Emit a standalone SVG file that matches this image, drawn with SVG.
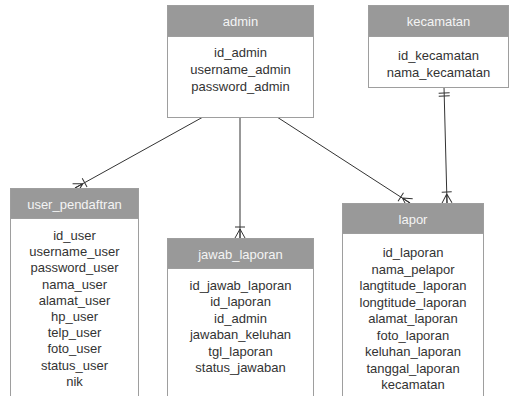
<svg xmlns="http://www.w3.org/2000/svg" width="510" height="396" viewBox="0 0 510 396">
  <style>
    .body { fill: #ffffff; stroke: #9e9e9e; stroke-width: 1; }
    .head { fill: #999999; stroke: #9e9e9e; stroke-width: 1; }
    .title { font-family: "Liberation Sans", Arial, sans-serif; font-size: 13px; fill: #f4f4f4; text-anchor: middle; }
    .field { font-family: "Liberation Sans", Arial, sans-serif; font-size: 13px; fill: #333333; text-anchor: middle; }
    .rel { fill: none; stroke: #333333; stroke-width: 1; }
    .mk { fill: none; stroke: #333333; stroke-width: 1; }
  </style>
  <defs>
    <!-- one-or-many (crow's foot with bar) at the entity end -->
    <marker id="many" markerUnits="userSpaceOnUse" viewBox="-14 -7 16 14" refX="0" refY="0" markerWidth="16" markerHeight="14" orient="auto" overflow="visible">
      <path class="mk" d="M-9,0 L0,-5 M-9,0 L0,0 M-9,0 L0,5 M-11,-5 L-11,5"/>
    </marker>
    <!-- one-and-only-one (double bar) at the start -->
    <marker id="one" markerUnits="userSpaceOnUse" viewBox="-14 -7 16 14" refX="0" refY="0" markerWidth="16" markerHeight="14" orient="auto-start-reverse" overflow="visible">
      <path class="mk" d="M-6,-5.5 L-6,5.5 M-9,-5.5 L-9,5.5"/>
    </marker>
  </defs>

  <g id="connectors">
    <path class="rel" d="M203,117 L75,188" marker-end="url(#many)"/>
    <path class="rel" d="M240,117 L240,238" marker-end="url(#many)"/>
    <path class="rel" d="M277,117 L410,203" marker-end="url(#many)"/>
    <path class="rel" d="M444,87 L447,203" marker-start="url(#one)" marker-end="url(#many)"/>
  </g>

  <g id="admin">
    <rect class="body" x="167.5" y="5.5" width="146" height="112"/>
    <rect class="head" x="167.5" y="5.5" width="146" height="31"/>
    <text class="title" x="240.5" y="26">admin</text>
    <text class="field" x="240.5" y="57">id_admin</text>
    <text class="field" x="240.5" y="74">username_admin</text>
    <text class="field" x="240.5" y="90.5">password_admin</text>
  </g>

  <g id="kecamatan">
    <rect class="body" x="368.5" y="5.5" width="140" height="82"/>
    <rect class="head" x="368.5" y="5.5" width="140" height="31"/>
    <text class="title" x="438.5" y="26">kecamatan</text>
    <text class="field" x="438.5" y="60">id_kecamatan</text>
    <text class="field" x="438.5" y="77">nama_kecamatan</text>
  </g>

  <g id="user_pendaftran">
    <rect class="body" x="10.5" y="188.5" width="128" height="220"/>
    <rect class="head" x="10.5" y="188.5" width="128" height="30"/>
    <text class="title" x="74.5" y="209">user_pendaftran</text>
    <text class="field" x="74.5" y="240">id_user</text>
    <text class="field" x="74.5" y="256.2">username_user</text>
    <text class="field" x="74.5" y="272.4">password_user</text>
    <text class="field" x="74.5" y="288.6">nama_user</text>
    <text class="field" x="74.5" y="304.8">alamat_user</text>
    <text class="field" x="74.5" y="321">hp_user</text>
    <text class="field" x="74.5" y="337.2">telp_user</text>
    <text class="field" x="74.5" y="353.4">foto_user</text>
    <text class="field" x="74.5" y="369.6">status_user</text>
    <text class="field" x="74.5" y="386">nik</text>
  </g>

  <g id="jawab_laporan">
    <rect class="body" x="167.5" y="238.5" width="146" height="170"/>
    <rect class="head" x="167.5" y="238.5" width="146" height="30"/>
    <text class="title" x="240.5" y="259">jawab_laporan</text>
    <text class="field" x="240.5" y="289.5">id_jawab_laporan</text>
    <text class="field" x="240.5" y="306">id_laporan</text>
    <text class="field" x="240.5" y="322.5">id_admin</text>
    <text class="field" x="240.5" y="339">jawaban_keluhan</text>
    <text class="field" x="240.5" y="355.5">tgl_laporan</text>
    <text class="field" x="240.5" y="372">status_jawaban</text>
  </g>

  <g id="lapor">
    <rect class="body" x="342.5" y="203.5" width="141" height="205"/>
    <rect class="head" x="342.5" y="203.5" width="141" height="30"/>
    <text class="title" x="413" y="224">lapor</text>
    <text class="field" x="413" y="257">id_laporan</text>
    <text class="field" x="413" y="273.5">nama_pelapor</text>
    <text class="field" x="413" y="290">langtitude_laporan</text>
    <text class="field" x="413" y="306.5">longtitude_laporan</text>
    <text class="field" x="413" y="323">alamat_laporan</text>
    <text class="field" x="413" y="339.5">foto_laporan</text>
    <text class="field" x="413" y="356">keluhan_laporan</text>
    <text class="field" x="413" y="372.5">tanggal_laporan</text>
    <text class="field" x="413" y="389">kecamatan</text>
  </g>
</svg>
